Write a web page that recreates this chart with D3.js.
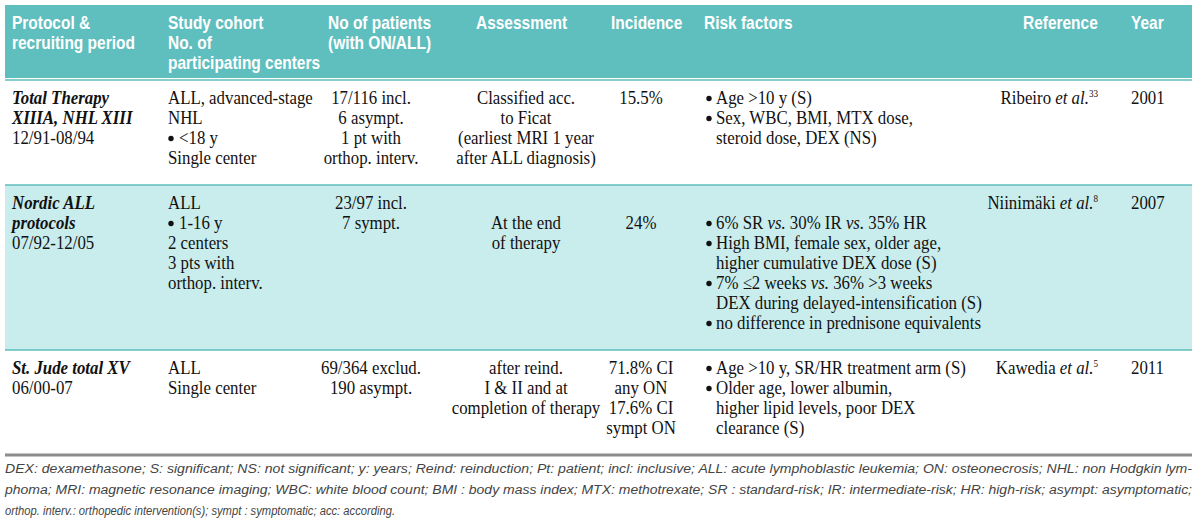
<!DOCTYPE html>
<html><head><meta charset="utf-8">
<script src="https://cdn.jsdelivr.net/npm/d3@7"></script>
<style>body{margin:0;background:#fff}</style>
</head><body>
<svg id="c" width="1200" height="525"></svg>
<script>
// ---------- DATA ----------
const headers = [
  ["Protocol &", "recruiting period"],
  ["Study cohort", "No. of", "participating centers"],
  ["No of patients", "(with ON/ALL)"],
  ["Assessment"],
  ["Incidence"],
  ["Risk factors"],
  ["Reference"],
  ["Year"]
];
const protocolNames = [["Total Therapy", "XIIIA, NHL XIII"], ["Nordic ALL", "protocols"], ["St. Jude total XV"]];
const periods = ["12/91-08/94", "07/92-12/05", "06/00-07"];
const cohorts = [
  ["ALL, advanced-stage", "NHL", "• <18 y", "Single center"],
  ["ALL", "• 1-16 y", "2 centers", "3 pts with", "orthop. interv."],
  ["ALL", "Single center"]
];
const patients = [
  ["17/116 incl.", "6 asympt.", "1 pt with", "orthop. interv."],
  ["23/97 incl.", "7 sympt."],
  ["69/364 exclud.", "190 asympt."]
];
const assessments = [
  ["Classified acc.", "to Ficat", "(earliest MRI 1 year", "after ALL diagnosis)"],
  ["", "At the end", "of  therapy"],
  ["after reind.", "I & II and at", "completion of therapy"]
];
const incidences = [
  ["15.5%"],
  ["", "24%"],
  ["71.8% CI", "any ON", "17.6% CI", "sympt ON"]
];
const riskFactors = [
  [["Age >10 y (S)"], ["Sex, WBC, BMI, MTX dose,", "steroid dose, DEX (NS)"]],
  [null,
   ["6% SR *vs.* 30% IR *vs.* 35% HR"],
   ["High BMI, female sex, older age,", "higher cumulative DEX dose (S)"],
   ["7% ≤2 weeks *vs.* 36% >3 weeks", "DEX during delayed-intensification (S)"],
   ["no difference in prednisone equivalents"]],
  [["Age >10 y, SR/HR treatment arm (S)"], ["Older age, lower albumin,", "higher lipid levels, poor DEX", "clearance (S)"]]
];
const references = ["Ribeiro *et al.*^33^", "Niinimäki *et al.*^8^", "Kawedia *et al.*^5^"];
const years = ["2001", "2007", "2011"];
const footnotes = [
  "DEX: dexamethasone; S: significant; NS: not significant; y: years; Reind: reinduction; Pt: patient; incl: inclusive; ALL: acute lymphoblastic leukemia; ON: osteonecrosis;  NHL: non Hodgkin lym-",
  "phoma; MRI: magnetic resonance imaging; WBC: white blood count; BMI : body mass index; MTX: methotrexate; SR : standard-risk; IR: intermediate-risk; HR: high-risk; asympt: asymptomatic;",
  "orthop. interv.: orthopedic intervention(s); sympt : symptomatic; acc: according."
];

// ---------- LAYOUT ----------
const svg = d3.select("#c");
const colKeys = ["protocol", "cohort", "patients", "assessment", "incidence", "risk", "reference", "year"];
const headX = d3.scaleOrdinal().domain(colKeys).range([12, 168, 328, 476, 611, 704, 1023, 1131]);
const bodyX = d3.scaleOrdinal().domain(colKeys).range([12, 168, 371, 526, 641, 716, 1098, 1131]);
const bodyAnchor = d3.scaleOrdinal().domain(colKeys).range(["start", "start", "middle", "middle", "middle", "start", "end", "start"]);
const left = 5, right = 1192;
const teal = "#5fbebe", lightTeal = "#c9eced";
const lineH = 20, rowPad = 25, firstBase = 24;
const lineY = d3.scaleLinear().domain([0, 1]).range([0, lineH]);
const bodyFont = "'Liberation Serif', 'Times New Roman', serif";
const bodySize = 18.5, bodySX = 0.91;

// header
const headTop = 5, headBottom = 78;
svg.append("rect").attr("x", left).attr("y", headTop).attr("width", right - left).attr("height", headBottom - headTop).attr("fill", teal);
const headY = d3.scaleLinear().domain([0, 1]).range([28.5, 48.5]);
headers.forEach((lines, ci) => {
  lines.forEach((t, li) => {
    svg.append("text")
      .attr("transform", `translate(${headX(colKeys[ci])},${headY(li)}) scale(0.86,1)`)
      .attr("font-family", "'Liberation Sans', Arial, sans-serif")
      .attr("font-weight", "bold").attr("font-size", 18).attr("fill", "#fff")
      .text(t);
  });
});

function addRich(sel, str) {
  const parts = str.split(/(\*[^*]+\*|\^[^^]+\^)/).filter(p => p.length);
  parts.forEach(p => {
    if (p.startsWith("*")) sel.append("tspan").attr("font-style", "italic").text(p.slice(1, -1));
    else if (p.startsWith("^")) sel.append("tspan").attr("font-size", 10).attr("dy", -7).text(p.slice(1, -1));
    else sel.append("tspan").text(p);
  });
}

// build rows
const rows = protocolNames.map((pn, i) => {
  const risk = [];
  riskFactors[i].forEach(item => {
    if (item === null) { risk.push({ t: "" }); return; }
    item.forEach((t, k) => risk.push({ t, bullet: k === 0 }));
  });
  const cells = {
    protocol: [...pn.map(t => ({ t, bi: true })), { t: periods[i] }],
    cohort: cohorts[i].map(t => ({ t })),
    patients: patients[i].map(t => ({ t })),
    assessment: assessments[i].map(t => ({ t })),
    incidence: incidences[i].map(t => ({ t })),
    risk,
    reference: [{ t: references[i] }],
    year: [{ t: years[i] }]
  };
  const n = d3.max(Object.values(cells), c => c.length);
  return { cells, n };
});

let y = 80;
const rowFill = ["#fff", lightTeal, "#fff"];
rows.forEach((r, i) => {
  const h = r.n * lineH + rowPad;
  r.top = y; r.h = h;
  svg.append("rect").attr("x", left).attr("y", y).attr("width", right - left).attr("height", h).attr("fill", rowFill[i]);
  y += h;
});
const tableBottom = y;

function bullet(x, by) {
  svg.append("circle").attr("cx", x).attr("cy", by - 5.5).attr("r", 2.7).attr("fill", "#111");
}

function addText(x, y0, anchor, str, bi) {
  let s = str, xx = x;
  const m = str.match(/^• (.*)$/);
  if (m) { bullet(x + 3, y0); s = m[1]; xx = x + 11; }
  const tx = svg.append("text")
    .attr("transform", `translate(${xx},${y0}) scale(${bodySX},1)`)
    .attr("text-anchor", anchor)
    .attr("font-family", bodyFont).attr("font-size", bodySize).attr("fill", "#111")
    .attr("font-weight", bi ? "bold" : null).attr("font-style", bi ? "italic" : null);
  addRich(tx, s);
}

rows.forEach((r) => {
  colKeys.forEach(k => {
    r.cells[k].forEach((c, li) => {
      if (!c.t) return;
      const by = r.top + firstBase + lineY(li);
      if (c.bullet) bullet(bodyX(k) - 7, by);
      addText(bodyX(k), by, bodyAnchor(k), c.t, c.bi);
    });
  });
});

// separators
rows.forEach(r => {
  svg.append("line").attr("x1", left).attr("x2", right).attr("y1", r.top).attr("y2", r.top)
    .attr("stroke", teal).attr("stroke-width", 1.5);
});
svg.append("line").attr("x1", left).attr("x2", right).attr("y1", tableBottom).attr("y2", tableBottom)
  .attr("stroke", "#8c8c8c").attr("stroke-width", 3);

// footnotes
const footY = d3.scaleLinear().domain([0, 1]).range([tableBottom + 18, tableBottom + 39]);
footnotes.forEach((t, i) => {
  const tx = svg.append("text").attr("x", left).attr("y", footY(i))
    .attr("font-family", "'Liberation Sans', Arial, sans-serif").attr("font-style", "italic")
    .attr("font-size", 12.5).attr("fill", "#444").text(t);
  tx.attr("textLength", i < 2 ? right - left : 390).attr("lengthAdjust", "spacingAndGlyphs");
});
</script>
</body></html>
